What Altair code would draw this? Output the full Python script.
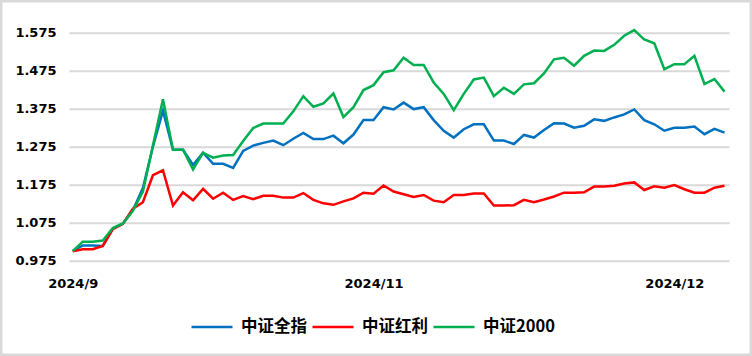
import altair as alt
import pandas as pd

series_names = ["中证全指", "中证红利", "中证2000"]
series_colors = ["#0070C0", "#FF0000", "#00B050"]

csi_all = [1.000, 1.015, 1.015, 1.014, 1.060, 1.072, 1.108, 1.166, 1.275, 1.370,
           1.267, 1.267, 1.227, 1.259, 1.230, 1.230, 1.219, 1.264, 1.278, 1.285,
           1.291, 1.279, 1.296, 1.311, 1.295, 1.295, 1.304, 1.284, 1.307, 1.345,
           1.345, 1.379, 1.373, 1.391, 1.374, 1.379, 1.345, 1.317, 1.299, 1.321,
           1.334, 1.334, 1.291, 1.291, 1.282, 1.306, 1.299, 1.319, 1.337, 1.336,
           1.325, 1.330, 1.347, 1.343, 1.352, 1.360, 1.373, 1.345, 1.334, 1.317,
           1.325, 1.325, 1.328, 1.308, 1.322, 1.312]
csi_div = [1.000, 1.005, 1.005, 1.014, 1.058, 1.072, 1.112, 1.129, 1.200, 1.213,
           1.120, 1.155, 1.134, 1.164, 1.138, 1.154, 1.135, 1.145, 1.137, 1.146,
           1.146, 1.141, 1.141, 1.153, 1.135, 1.126, 1.122, 1.131, 1.139, 1.154,
           1.151, 1.173, 1.157, 1.150, 1.143, 1.148, 1.133, 1.129, 1.148, 1.148,
           1.152, 1.152, 1.120, 1.120, 1.121, 1.135, 1.129, 1.136, 1.144, 1.154,
           1.154, 1.155, 1.170, 1.170, 1.172, 1.178, 1.181, 1.161, 1.171, 1.167,
           1.174, 1.163, 1.154, 1.154, 1.167, 1.172]
csi_2000 = [1.000, 1.025, 1.025, 1.028, 1.061, 1.073, 1.106, 1.157, 1.278, 1.400,
            1.267, 1.267, 1.215, 1.259, 1.246, 1.252, 1.253, 1.290, 1.324, 1.336,
            1.336, 1.336, 1.368, 1.408, 1.380, 1.389, 1.415, 1.353, 1.379, 1.424,
            1.437, 1.471, 1.476, 1.509, 1.490, 1.490, 1.444, 1.414, 1.371, 1.414,
            1.452, 1.457, 1.408, 1.430, 1.414, 1.439, 1.442, 1.468, 1.505, 1.509,
            1.488, 1.514, 1.528, 1.527, 1.543, 1.567, 1.582, 1.557, 1.547, 1.479,
            1.492, 1.492, 1.514, 1.440, 1.453, 1.420]

x_tick_idx = [0, 30, 60]
x_tick_labels = ["2024/9", "2024/11", "2024/12"]
y_ticks = [0.975, 1.075, 1.175, 1.275, 1.375, 1.475, 1.575]

rows = []
for name, vals in zip(series_names, [csi_all, csi_div, csi_2000]):
    for i, v in enumerate(vals):
        rows.append({"idx": i, "value": v, "series": name})
df = pd.DataFrame(rows)

label_expr = " : ".join(
    f"datum.value == {i} ? '{t}'" for i, t in zip(x_tick_idx, x_tick_labels)
) + " : ''"

W, H = 660, 228
PL, PT = 69, 32.7

lines = alt.Chart(df).mark_line(strokeWidth=2.5, clip=False).encode(
    x=alt.X("idx:Q", scale=alt.Scale(domain=[-0.37, 65.45], nice=False, zero=False),
            axis=alt.Axis(values=x_tick_idx, labelExpr=label_expr, grid=False,
                          domain=False, ticks=False, labelPadding=17,
                          labelFont="DejaVu Sans", labelFontWeight="bold",
                          labelFontSize=13, labelColor="#000000", title=None,
                          labelFlush=False)),
    y=alt.Y("value:Q", scale=alt.Scale(domain=[0.975, 1.575], nice=False, zero=False),
            axis=alt.Axis(values=y_ticks, format=".3f", grid=True, gridColor="#D9D9D9",
                          gridWidth=2, domain=False, ticks=False, labelPadding=13,
                          labelFont="DejaVu Sans", labelFontWeight="bold",
                          labelFontSize=13, labelColor="#000000", title=None)),
    color=alt.Color("series:N",
                    scale=alt.Scale(domain=series_names, range=series_colors),
                    legend=alt.Legend(orient="none", legendX=121, legendY=272,
                                      direction="horizontal", title=None,
                                      symbolType="stroke", symbolSize=1681,
                                      symbolStrokeWidth=2.5, labelOffset=7,
                                      columnPadding=0,
                                      labelFont="Noto Sans CJK SC",
                                      labelFontWeight="bold", labelFontSize=16.5,
                                      labelColor="#000000")),
    order="idx:Q",
)

border = alt.Chart(pd.DataFrame({"b": [0]})).mark_rect(
    fill=None, stroke="#D9D9D9", strokeWidth=2.5, clip=False
).encode(
    x=alt.value(-PL + 1.2), x2=alt.value(752 - PL - 1.2),
    y=alt.value(-PT + 1.2), y2=alt.value(356 - PT - 1.2),
)

chart = alt.layer(lines, border).properties(
    width=W, height=H,
    padding={"left": PL, "top": PT, "right": 752 - PL - W, "bottom": 356 - PT - H},
    autosize=alt.AutoSizeParams(type="none"),
    background="#FFFFFF",
).configure_view(stroke=None)

chart.save("out.html", embed_options={"renderer": "svg", "actions": False})
